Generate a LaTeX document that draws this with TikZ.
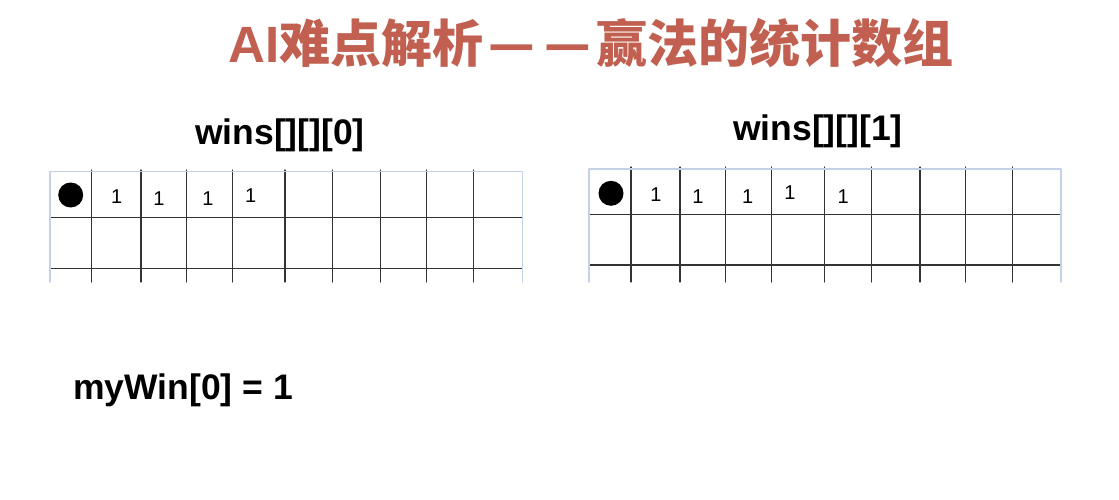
\documentclass[tikz,border=0pt]{standalone}
\usepackage{fontspec}
\setmainfont{Liberation Sans}
\newfontfamily\cjk{Noto Sans CJK SC}
\definecolor{titlered}{HTML}{C16050}
\definecolor{gridblue}{HTML}{C3D2E6}
\definecolor{gridgray}{HTML}{333333}
\tikzset{
	arrname/.style={font=\fontsize{35.5}{40}\selectfont\bfseries,anchor=base,inner sep=0pt},
	one/.style={font=\fontsize{20}{22}\selectfont,inner sep=0pt},
	stone/.style={circle,fill=black,minimum size=25pt,inner sep=0pt},
	cellline/.style={gridgray,line width=1.3pt},
	border/.style={gridblue,line width=1.4pt},
}
\begin{document}
\begin{tikzpicture}[x=1pt,y=-1pt,line join=round,line cap=round]
		\useasboundingbox (0,0) rectangle (1119,500);
		\node[anchor=base,inner sep=0pt,text=titlered,font=\fontsize{51}{60}\selectfont\bfseries] (title) at (591,63) {AI\cjk 难点解析\hspace{5pt}—\hspace{10pt}—\hspace{5pt}赢法的统计数组};
		% wins[][][0]
		\node[arrname] (winsA) at (280,144.5) {wins[][][0]};
		\foreach \x in {91.7,141,186.7,232.7,285,332.3,380.7,426.7,473.3}
		\draw[cellline] (\x,170) -- (\x,282);
		\draw[cellline] (50,217.3) -- (522.3,217.3);
		\draw[cellline] (50,268.3) -- (522.3,268.3);
		\draw[border] (50,282) -- (50,171.7) -- (522.3,171.7) -- (522.3,282);
		\node[stone] (stoneA) at (70.7,195) {};
		\node[one] (a1) at (116.7,196.7) {1};
		\node[one] (a2) at (159,199) {1};
		\node[one] (a3) at (208,199) {1};
		\node[one] (a4) at (250.7,196) {1};
		% wins[][][1]
		\node[arrname] (winsB) at (818,141) {wins[][][1]};
		\foreach \x in {631,680,725.7,771.7,824.3,871.7,920,965.7,1012.3}
		\draw[cellline] (\x,167) -- (\x,282);
		\draw[cellline] (589,214.3) -- (1061,214.3);
		\draw[cellline] (589,265) -- (1061,265);
		\draw[border] (589,282) -- (589,169) -- (1061,169) -- (1061,282);
		\node[stone] (stoneB) at (611,193.3) {};
		\node[one] (b1) at (656,195) {1};
		\node[one] (b2) at (698,197) {1};
		\node[one] (b3) at (747.7,197) {1};
		\node[one] (b4) at (790,193) {1};
		\node[one] (b5) at (843.3,197) {1};
		\node[arrname,anchor=base west] (mywin) at (73,399) {myWin[0] = 1};
\end{tikzpicture}
\end{document}
